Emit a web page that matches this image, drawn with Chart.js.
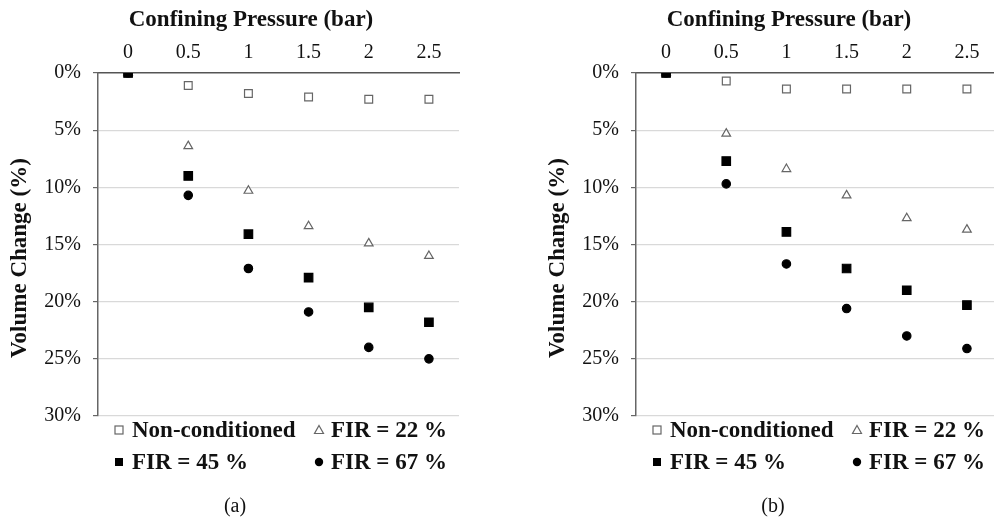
<!DOCTYPE html>
<html>
<head>
<meta charset="utf-8">
<script src="https://cdn.jsdelivr.net/npm/chart.js@4"></script>
<style>
  html, body { margin: 0; padding: 0; background: #fff; width: 994px; height: 519px; overflow: hidden; }
  .panel { position: absolute; top: 0; width: 502px; height: 519px; }
  .panel canvas { position: absolute; left: 0; top: 0; }
  .leg { position: absolute; font: bold 23px "Liberation Serif", "Times New Roman", serif; color: #111; line-height: 24px; white-space: nowrap; }
  .mk { position: absolute; }
  .cap { position: absolute; font: 20px "Liberation Serif", "Times New Roman", serif; color: #111; width: 60px; text-align: center; line-height: 24px; }
</style>
</head>
<body>
<div class="panel" id="panelA" style="left:0px">
  <canvas id="chartA" width="502" height="516"></canvas>
</div>
<div class="panel" id="panelB" style="left:538px">
  <canvas id="chartB" width="502" height="516"></canvas>
</div>
<script>
// confining pressure categories (bar)
const pressures = ['0', '0.5', '1', '1.5', '2', '2.5'];
const seriesNames = ['Non-conditioned', 'FIR = 22 %', 'FIR = 45 %', 'FIR = 67 %'];

// volume change (%) - panel (a)
const nonCondA = [0, 1.1, 1.8, 2.1, 2.3, 2.3];
const fir22A = [0, 6.4, 10.3, 13.4, 14.9, 16.0];
const fir45A = [0, 9.0, 14.1, 17.9, 20.5, 21.8];
const fir67A = [0, 10.7, 17.1, 20.9, 24.0, 25.0];

// volume change (%) - panel (b)
const nonCondB = [0, 0.7, 1.4, 1.4, 1.4, 1.4];
const fir22B = [0, 5.3, 8.4, 10.7, 12.7, 13.7];
const fir45B = [0, 7.7, 13.9, 17.1, 19.0, 20.3];
const fir67B = [0, 9.7, 16.7, 20.6, 23.0, 24.1];

const serif = '"Liberation Serif", "Times New Roman", serif';

// empty axes, only used to reserve room right of / below the plot
const spacer = size => ({
  display: true,
  grid: { display: false, drawTicks: false },
  border: { display: false },
  ticks: { display: false },
  afterFit: s => { if (s.isHorizontal()) s.height = size; else s.width = size; }
});

function makeChart(id, nonCond, fir22, fir45, fir67) {
  const base = { showLine: false, order: 1, borderWidth: 1.2, xAxisID: 'x', yAxisID: 'y' };
  return new Chart(document.getElementById(id), {
    type: 'line',
    data: {
      labels: pressures,
      datasets: [
        { ...base, label: seriesNames[0], data: nonCond, pointStyle: 'rect', pointRadius: 5.5,
          backgroundColor: '#fff', borderColor: '#666' },
        { ...base, label: seriesNames[1], data: fir22, pointStyle: 'triangle', pointRadius: 5,
          backgroundColor: '#fff', borderColor: '#666' },
        { ...base, label: seriesNames[2], data: fir45, pointStyle: 'rect', pointRadius: 6,
          backgroundColor: '#000', borderColor: '#000', order: 0 },
        { ...base, label: seriesNames[3], data: fir67, pointStyle: 'circle', pointRadius: 4.2,
          backgroundColor: '#000', borderColor: '#000' }
      ]
    },
    options: {
      responsive: false,
      animation: false,
      layout: { padding: 0 },
      plugins: {
        legend: { display: false },
        tooltip: { enabled: false },
        title: { display: true, text: 'Confining Pressure (bar)', color: '#111',
                 padding: { top: 6, bottom: 0 }, font: { family: serif, size: 23, weight: 'bold' } },
        subtitle: { display: true, position: 'left', text: 'Volume Change (%)', color: '#111',
                    padding: { top: 6, bottom: 0 }, font: { family: serif, size: 23, weight: 'bold' } }
      },
      scales: {
        x: {
          type: 'category',
          position: 'top',
          offset: true,
          grid: { display: false, drawTicks: false },
          border: { display: true, color: '#555', width: 1.5 },
          ticks: { padding: 8, color: '#111', font: { family: serif, size: 20 } },
          afterFit: s => { s.height = 39.4; }
        },
        y: {
          reverse: true,
          min: 0, max: 30,
          grid: { color: c => (c.tick && c.tick.value === 0 ? 'rgba(0,0,0,0)' : '#d9d9d9'),
                  tickColor: '#666', tickLength: 5, lineWidth: 1.2 },
          border: { display: true, color: '#666', width: 1.5 },
          ticks: { stepSize: 5, padding: 12, color: '#111', font: { family: serif, size: 20 },
                   callback: v => v + '%' },
          afterFit: s => { s.width = 64.4; }
        },
        xB: { type: 'category', position: 'bottom', ...spacer(100) },
        yR: { type: 'linear', position: 'right', ...spacer(43) }
      }
    }
  });
}

makeChart('chartA', nonCondA, fir22A, fir45A, fir67A);
makeChart('chartB', nonCondB, fir22B, fir45B, fir67B);

// legend and caption for each panel
const markers = [
  '<rect x="2" y="2" width="8" height="8" fill="#fff" stroke="#666" stroke-width="1.2"/>',
  '<polygon points="6,1.5 10.5,9.5 1.5,9.5" fill="#fff" stroke="#666" stroke-width="1.2"/>',
  '<rect x="2" y="2" width="8" height="8" fill="#000"/>',
  '<circle cx="6" cy="6" r="4.2" fill="#000"/>'
];
const legendPos = [[119, 132, 430], [319, 331, 430], [119, 132, 462], [319, 331, 462]];

function addLegend(panelId, caption) {
  const panel = document.getElementById(panelId);
  seriesNames.forEach((name, i) => {
    const [mx, tx, cy] = legendPos[i];
    const svg = document.createElementNS('http://www.w3.org/2000/svg', 'svg');
    svg.setAttribute('width', 12);
    svg.setAttribute('height', 12);
    svg.setAttribute('class', 'mk');
    svg.style.left = (mx - 6) + 'px';
    svg.style.top = (cy - 6) + 'px';
    svg.innerHTML = markers[i];
    panel.appendChild(svg);
    const t = document.createElement('div');
    t.className = 'leg';
    t.style.left = tx + 'px';
    t.style.top = (cy - 12) + 'px';
    t.textContent = name;
    panel.appendChild(t);
  });
  const c = document.createElement('div');
  c.className = 'cap';
  c.style.left = '205px';
  c.style.top = '493px';
  c.textContent = caption;
  panel.appendChild(c);
}

addLegend('panelA', '(a)');
addLegend('panelB', '(b)');
</script>
</body>
</html>
